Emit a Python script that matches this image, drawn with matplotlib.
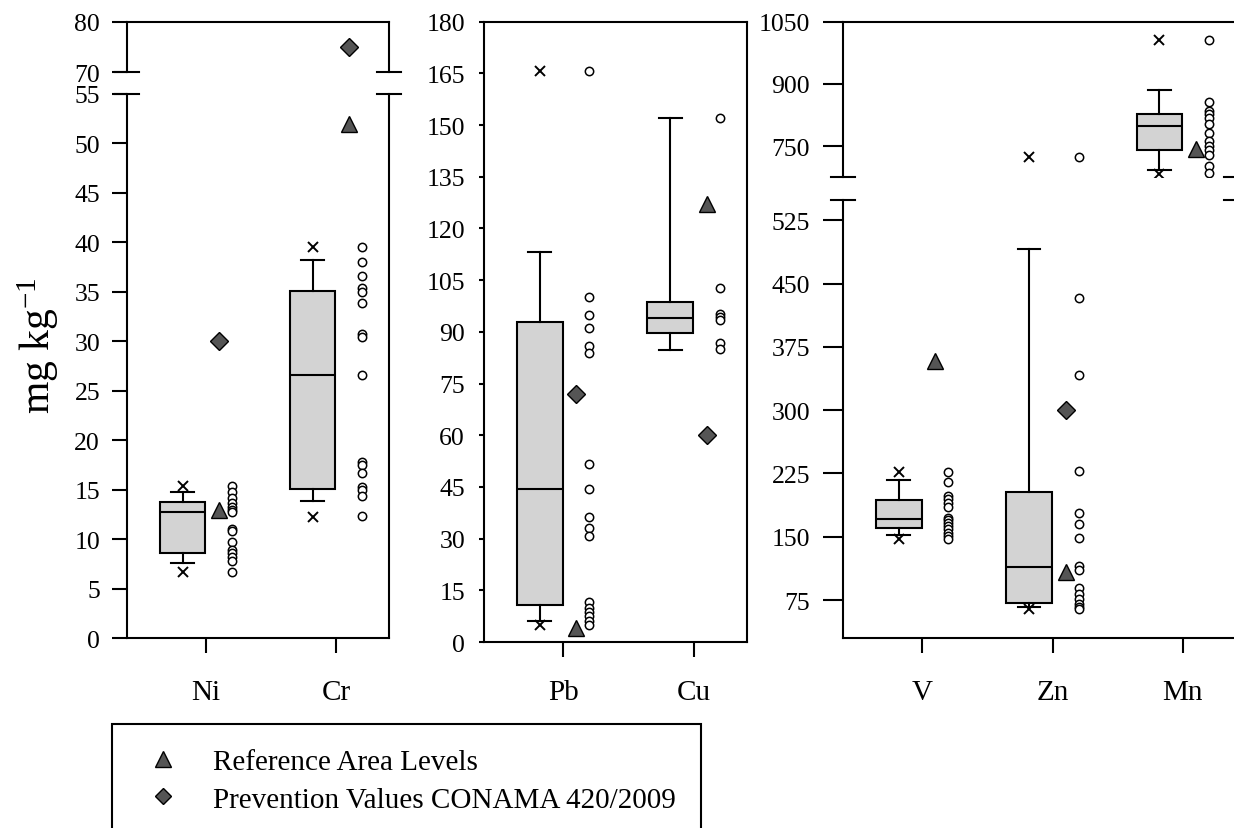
import matplotlib
matplotlib.use('Agg')
import matplotlib.pyplot as plt
from matplotlib.lines import Line2D
from matplotlib.patches import Rectangle

plt.rcParams['font.family'] = ['Liberation Serif', 'DejaVu Serif']
plt.rcParams['mathtext.default'] = 'regular'

# values, mg/kg
elements = ['Ni', 'Cr', 'Pb', 'Cu', 'V', 'Zn', 'Mn']
q1 = [8.6, 15.1, 10.6, 89.8, 160.0, 71.8, 740.3]
med = [12.7, 26.6, 44.3, 94.0, 171.4, 114.7, 799.3]
q3 = [13.7, 35.1, 92.8, 98.6, 193.5, 203.4, 828.3]
whis_lo = [7.55, 13.9, 6.2, 84.7, 152.0, 67.0, 693.6]
whis_hi = [14.8, 38.2, 113.1, 152.2, 217.2, 490.6, 886.4]
min_val = [6.7, 12.2, 4.9, None, 147.0, 64.6, 684.0]
max_val = [15.4, 39.5, 165.8, None, 226.7, 724.4, 1005.7]
ref_level = [12.9, 52.0, 4.0, 127.2, 358.3, 107.7, 744.4]
conama = [30, 75, 72, 60, None, 300, None]

samples = {
    'Ni': [15.4, 14.8, 14.2, 13.6, 13.2, 12.9, 12.7, 11.0, 10.8, 9.7, 8.9, 8.6, 8.2, 7.8, 6.7],
    'Cr': [39.5, 38.0, 36.6, 35.4, 35.0, 33.9, 30.7, 30.4, 26.6, 17.8, 17.5, 16.7, 15.3, 15.0, 14.4, 12.3],
    'Pb': [165.8, 100.2, 94.8, 91.0, 86.0, 84.0, 51.6, 44.3, 36.4, 33.0, 30.8, 11.5, 10.0, 8.8, 7.4, 6.2, 4.9],
    'Cu': [152.2, 102.7, 95.1, 94.3, 93.4, 86.9, 84.9],
    'V': [226.7, 215.3, 198.2, 194.3, 190.3, 185.6, 172.6, 169.8, 166.7, 162.7, 158.8, 154.9, 150.9, 147.0],
    'Zn': [724.4, 432.6, 341.3, 227.9, 178.1, 165.1, 148.0, 115.0, 110.3, 89.4, 82.3, 76.4, 69.7, 67.0, 64.6],
    'Mn': [1005.7, 857.4, 834.7, 826.7, 818.7, 802.5, 782.4, 762.1, 750.0, 740.3, 729.9, 701.6, 685.6],
}

W, H = 1234, 829
fig = plt.figure(figsize=(W / 100, H / 100), dpi=100)
LW = 1.5
GREY = '#d3d3d3'
DARK = '#555555'


def px_axes(x0, y0, x1, y1):
    # axes placed by pixel box (top-left origin)
    return fig.add_axes([x0 / W, 1 - y1 / H, (x1 - x0) / W, (y1 - y0) / H])


def draw(ax, names):
    for k, name in enumerate(names):
        i = elements.index(name)
        pos = k + 1
        st = dict(med=med[i], q1=q1[i], q3=q3[i], whislo=whis_lo[i], whishi=whis_hi[i], fliers=[])
        ax.bxp([st], positions=[pos - 0.18], widths=0.35, patch_artist=True, showfliers=False,
               manage_ticks=False,
               boxprops=dict(facecolor=GREY, edgecolor='black', linewidth=LW),
               medianprops=dict(color='black', linewidth=LW),
               whiskerprops=dict(color='black', linewidth=LW),
               capprops=dict(color='black', linewidth=LW))
        if min_val[i] is not None:
            ax.plot([pos - 0.18] * 2, [min_val[i], max_val[i]], 'x', color='black', ms=7.5, mew=1.4, zorder=4)
        ax.plot([pos + 0.1], [ref_level[i]], '^', ms=11, mfc=DARK, mec='black', mew=1, zorder=5)
        if conama[i] is not None:
            ax.plot([pos + 0.1], [conama[i]], 'D', ms=9.5, mfc=DARK, mec='black', mew=1, zorder=5)
        vals = samples[name]
        ax.plot([pos + 0.2] * len(vals), vals, 'o', ms=6, mfc='white', mec='black', mew=1.1, zorder=4)
    ax.set_xlim(0.392, len(names) + 0.408)


def style(ax, ticklen, pad, xpad, part):
    for s in ax.spines.values():
        s.set_linewidth(LW)
        s.set_color('black')
    ax.tick_params(axis='y', direction='out', length=ticklen, width=LW, labelsize=18.5, pad=pad)
    ax.tick_params(axis='x', direction='out', length=10.8, width=LW, labelsize=21, pad=xpad)
    if part == 'upper':
        ax.spines['bottom'].set_visible(False)
        ax.tick_params(axis='x', bottom=False, labelbottom=False)
    elif part == 'lower':
        ax.spines['top'].set_visible(False)


def break_marks(ax, y):
    bb = ax.get_position()
    dx = 12 / (bb.width * W)
    for x in (0, 1):
        ax.plot([x - dx, x + dx], [y, y], transform=ax.transAxes, color='black', lw=LW, clip_on=False)


# left panel: Ni, Cr with broken axis
left_names = ['Ni', 'Cr']
ax_ll = px_axes(127, 95, 389, 639)
ax_lu = px_axes(127, 22.7, 389, 73)
for ax in (ax_ll, ax_lu):
    draw(ax, left_names)
ax_ll.set_ylim(0, 55)
ax_ll.set_yticks(range(0, 56, 5))
ax_lu.set_ylim(70, 80)
ax_lu.set_yticks([70, 80])
style(ax_ll, 10.8, 8.6, 18.7, 'lower')
style(ax_lu, 10.8, 8.6, 18.7, 'upper')
ax_ll.set_xticks([1, 2], left_names)
break_marks(ax_ll, 1)
break_marks(ax_lu, 0)

# middle panel: Pb, Cu
mid_names = ['Pb', 'Cu']
ax_m = px_axes(484, 22.7, 747, 643)
draw(ax_m, mid_names)
ax_m.set_ylim(0, 180)
ax_m.set_yticks(range(0, 181, 15))
style(ax_m, 3.6, 10, 15.8, 'full')
ax_m.set_xticks([1, 2], mid_names)

# right panel: V, Zn, Mn with broken axis
right_names = ['V', 'Zn', 'Mn']
ax_rl = px_axes(843, 201, 1236, 639)
ax_ru = px_axes(843, 22.7, 1236, 178.3)
for ax in (ax_rl, ax_ru):
    draw(ax, right_names)
ax_rl.set_ylim(30, 549)
ax_rl.set_yticks(range(75, 526, 75))
ax_ru.set_ylim(675, 1050)
ax_ru.set_yticks([750, 900, 1050])
style(ax_rl, 14.4, 9.4, 18.7, 'lower')
style(ax_ru, 14.4, 9.4, 18.7, 'upper')
ax_rl.set_xticks([1, 2, 3], right_names)
break_marks(ax_rl, 1)
break_marks(ax_ru, 0)

fig.text(38 / W, 1 - 346 / H, r'mg kg$^{-1}$', rotation=90, ha='center', va='center', fontsize=30)

# legend
handles = [Line2D([], [], marker='^', ls='none', ms=11, mfc=DARK, mec='black', mew=1),
           Line2D([], [], marker='D', ls='none', ms=8.5, mfc=DARK, mec='black', mew=1)]
labels = ['Reference Area Levels', 'Prevention Values CONAMA 420/2009']
fig.legend(handles, labels, loc='upper left', bbox_to_anchor=(148.4 / W, 1 - 750 / H),
           frameon=False, fontsize=21, borderpad=0, borderaxespad=0,
           handlelength=1, handletextpad=1.21, labelspacing=0.37)
fig.add_artist(Rectangle((112 / W, 1 - 850 / H), (701 - 112) / W, (850 - 725) / H,
                         transform=fig.transFigure, fill=False, ec='black', lw=LW, clip_on=False))

fig.savefig('out.png', dpi=100)
